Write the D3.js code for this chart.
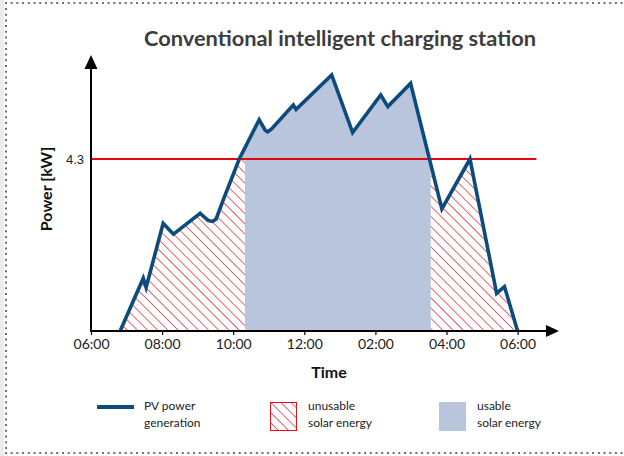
<!DOCTYPE html>
<html>
<head>
<meta charset="utf-8">
<script src="https://cdn.jsdelivr.net/npm/d3@7/dist/d3.min.js"></script>
<style>
  body { margin: 0; background: #fff; }
  svg { display: block; }
</style>
</head>
<body>
<svg id="chart"></svg>
<script>
// PV generation curve (hour of day, kW)
const hours = [6.82, 7.47, 7.55, 8.03, 8.32, 9.07, 9.30, 9.42, 9.52, 9.72, 10.17, 10.73, 10.90, 10.97, 11.08, 11.69, 11.77, 12.77, 13.36, 14.15, 14.35, 14.99, 15.87, 16.66, 17.41, 17.63, 18.0];
const power = [0, 1.32, 1.09, 2.69, 2.42, 2.94, 2.76, 2.74, 2.80, 3.28, 4.30, 5.28, 5.02, 4.98, 5.05, 5.65, 5.54, 6.40, 4.96, 5.90, 5.61, 6.19, 3.05, 4.30, 0.94, 1.11, 0];
const limit = 4.3;
const usableWindow = [10.33, 15.56];
const tickHours = [6, 8, 10, 12, 14, 16, 18];
const tickLabels = ['06:00', '08:00', '10:00', '12:00', '02:00', '04:00', '06:00'];
const legendLabels = [['PV power', 'generation'], ['unusable', 'solar energy'], ['usable', 'solar energy']];

const width = 624;
const height = 456;
const font = "'Lato', 'Open Sans', sans-serif";

const data = hours.map((h, i) => ({ h: h, p: power[i] }));

const svg = d3.select('#chart').attr('width', width).attr('height', height);

// page frame: grey strip + dotted border
svg.append('rect').attr('x', 0).attr('y', 0).attr('width', 4).attr('height', height).attr('fill', '#ececec');
const dotted = svg.append('g').attr('stroke', '#6e6e6e').attr('stroke-width', 2).attr('stroke-dasharray', '2,3.7');
dotted.append('line').attr('x1', 5).attr('x2', width).attr('y1', 3).attr('y2', 3);
dotted.append('line').attr('x1', 6).attr('x2', 6).attr('y1', 8).attr('y2', 452);
dotted.append('line').attr('x1', 5).attr('x2', width).attr('y1', 453).attr('y2', 453);

const x = d3.scaleLinear().domain([6, 18]).range([91, 517.6]);
const y = d3.scaleLinear().domain([0, 6.9]).range([331, 55]);

const defs = svg.append('defs');
const pat = defs.append('pattern')
  .attr('id', 'hatch')
  .attr('patternUnits', 'userSpaceOnUse')
  .attr('width', 7.2)
  .attr('height', 7.2)
  .attr('patternTransform', 'rotate(-45)');
pat.append('rect').attr('width', 7.2).attr('height', 7.2).attr('fill', '#fff');
pat.append('line').attr('x1', 0).attr('y1', 0).attr('x2', 0).attr('y2', 7.2).attr('stroke', '#e3101e').attr('stroke-width', 1.3);

const left = x.range()[0];
const right = 560;

// usable = inside the window, or above the limit
const clipUse = defs.append('clipPath').attr('id', 'clip-use');
clipUse.append('rect')
  .attr('x', x(usableWindow[0])).attr('y', 0)
  .attr('width', x(usableWindow[1]) - x(usableWindow[0])).attr('height', y(0));
clipUse.append('rect')
  .attr('x', left).attr('y', 0)
  .attr('width', right - left).attr('height', y(limit));

// unusable = outside the window and below the limit
const clipLost = defs.append('clipPath').attr('id', 'clip-lost');
clipLost.append('rect')
  .attr('x', left).attr('y', y(limit))
  .attr('width', x(usableWindow[0]) - left).attr('height', y(0) - y(limit));
clipLost.append('rect')
  .attr('x', x(usableWindow[1])).attr('y', y(limit))
  .attr('width', right - x(usableWindow[1])).attr('height', y(0) - y(limit));

const area = d3.area().x(d => x(d.h)).y0(y(0)).y1(d => y(d.p));
const line = d3.line().x(d => x(d.h)).y(d => y(d.p));

svg.append('path').datum(data).attr('d', area).attr('fill', '#b9c5dd').attr('clip-path', 'url(#clip-use)');
svg.append('path').datum(data).attr('d', area).attr('fill', 'url(#hatch)').attr('clip-path', 'url(#clip-lost)');

// limit line
svg.append('line')
  .attr('x1', left).attr('x2', x(18.53))
  .attr('y1', y(limit)).attr('y2', y(limit))
  .attr('stroke', '#e30613').attr('stroke-width', 2);

// PV curve
svg.append('path').datum(data)
  .attr('d', line)
  .attr('fill', 'none')
  .attr('stroke', '#0e4b7d')
  .attr('stroke-width', 3.6)
  .attr('stroke-linejoin', 'miter');

// x axis
const xAxis = d3.axisBottom(x).tickValues(tickHours).tickFormat((d, i) => tickLabels[i]).tickSize(4).tickPadding(4);
const gx = svg.append('g').attr('transform', `translate(0,${y(0)})`).call(xAxis);
gx.select('.domain').remove();
gx.selectAll('.tick line').attr('stroke', '#000').attr('stroke-width', 1.2);
gx.selectAll('.tick text').attr('font-family', font).attr('font-size', 14).attr('fill', '#222');

svg.append('line').attr('x1', left - 1).attr('x2', 547).attr('y1', y(0)).attr('y2', y(0)).attr('stroke', '#000').attr('stroke-width', 2);
svg.append('path').attr('d', `M546,${y(0) - 6}L559,${y(0)}L546,${y(0) + 6}Z`).attr('fill', '#000');

// y axis
const yAxis = d3.axisLeft(y).tickValues([limit]).tickFormat(d3.format('.1f')).tickSize(0).tickPadding(7);
const gy = svg.append('g').attr('transform', `translate(${left},0)`).call(yAxis);
gy.select('.domain').remove();
gy.selectAll('.tick text').attr('font-family', "'Liberation Sans', Arial, sans-serif").attr('font-size', 13).attr('fill', '#222');

svg.append('line').attr('x1', left).attr('x2', left).attr('y1', y(0) + 1).attr('y2', 68).attr('stroke', '#000').attr('stroke-width', 2);
svg.append('path').attr('d', `M${left - 6.5},69L${left},55L${left + 6.5},69Z`).attr('fill', '#000');

// titles
svg.append('text')
  .attr('x', 340).attr('y', 46)
  .attr('text-anchor', 'middle')
  .attr('font-family', font).attr('font-weight', 700).attr('font-size', 21.8)
  .attr('fill', '#3d3d3d')
  .text('Conventional intelligent charging station');

svg.append('text')
  .attr('x', 329).attr('y', 378)
  .attr('text-anchor', 'middle')
  .attr('font-family', font).attr('font-weight', 700).attr('font-size', 16)
  .attr('fill', '#111')
  .text('Time');

svg.append('text')
  .attr('transform', 'translate(52,189) rotate(-90)')
  .attr('text-anchor', 'middle')
  .attr('font-family', font).attr('font-weight', 700).attr('font-size', 16)
  .attr('fill', '#111')
  .text('Power [kW]');

// legend
const legendX = [97, 270, 439];
const lg = svg.append('g').attr('font-family', font).attr('font-size', 12).attr('fill', '#222');

lg.append('line').attr('x1', legendX[0]).attr('x2', legendX[0] + 37).attr('y1', 407).attr('y2', 407)
  .attr('stroke', '#0e4b7d').attr('stroke-width', 4);
lg.append('rect').attr('x', legendX[1] + 0.5).attr('y', 402.5).attr('width', 26).attr('height', 28)
  .attr('fill', 'url(#hatch)').attr('stroke', '#e3101e').attr('stroke-width', 1);
lg.append('rect').attr('x', legendX[2]).attr('y', 402).attr('width', 27).attr('height', 29).attr('fill', '#b9c5dd');

const textX = [144, 308, 477];
legendLabels.forEach((lines, i) => {
  lines.forEach((s, j) => {
    lg.append('text').attr('x', textX[i]).attr('y', 410 + j * 17).text(s);
  });
});
</script>
</body>
</html>
